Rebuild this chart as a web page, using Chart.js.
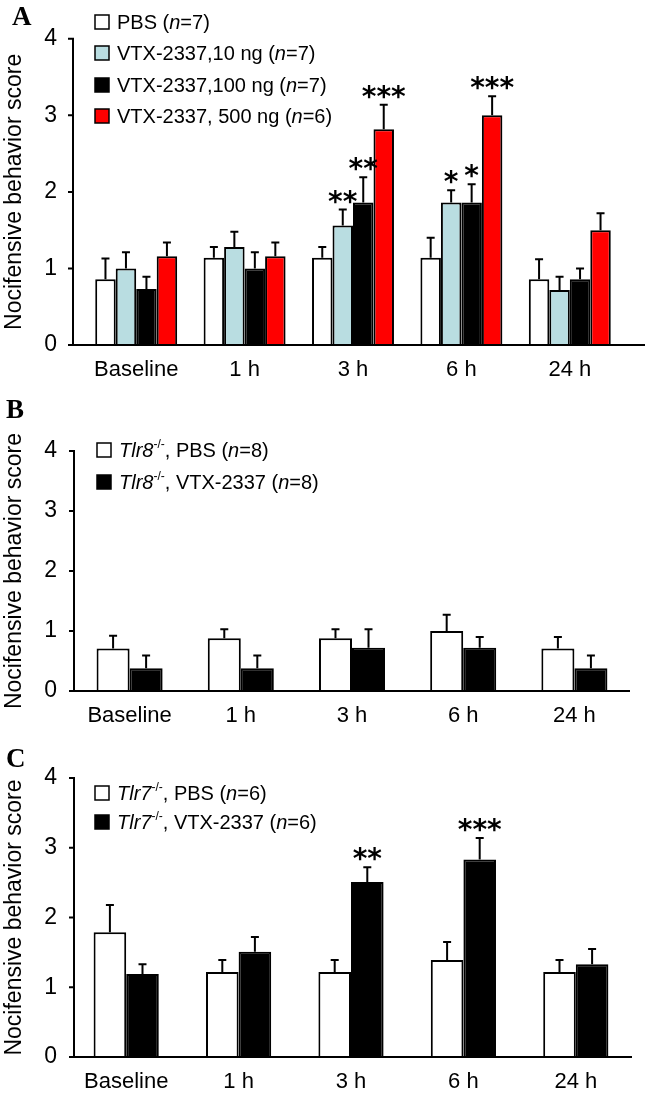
<!DOCTYPE html>
<html>
<head>
<meta charset="utf-8">
<script src="https://cdn.jsdelivr.net/npm/chart.js@4.4.1/dist/chart.umd.min.js"></script>
<style>
  html, body { margin: 0; padding: 0; background: #fff; }
  body { width: 645px; height: 1095px; position: relative; overflow: hidden; }
  canvas { position: absolute; left: 0; }
</style>
</head>
<body>
<canvas id="chartA" width="645" height="390" style="top:0px"></canvas>
<canvas id="chartB" width="645" height="340" style="top:390px"></canvas>
<canvas id="chartC" width="645" height="365" style="top:730px"></canvas>
<script>
// ---- data ----
const timepoints = ['Baseline', '1 h', '3 h', '6 h', '24 h'];
const yAxisTitle = 'Nocifensive behavior score';

// Panel A (wild type)
const pbsA       = [0.86, 1.14, 1.14, 1.14, 0.86];
const pbsAErr    = [0.27, 0.14, 0.14, 0.26, 0.26];
const vtx10A     = [1.00, 1.28, 1.56, 1.86, 0.72];
const vtx10AErr  = [0.21, 0.20, 0.21, 0.16, 0.17];
const vtx100A    = [0.73, 1.00, 1.86, 1.86, 0.86];
const vtx100AErr = [0.16, 0.21, 0.33, 0.24, 0.14];
const vtx500A    = [1.16, 1.16, 2.82, 3.00, 1.50];
const vtx500AErr = [0.18, 0.18, 0.32, 0.25, 0.22];
const sig10A     = ['', '', '**', '*', ''];
const sig100A    = ['', '', '**', '*', ''];
const sig500A    = ['', '', '***', '***', ''];

// Panel B (Tlr8-/-)
const pbsB    = [0.71, 0.88, 0.88, 1.00, 0.71];
const pbsBErr = [0.21, 0.15, 0.15, 0.27, 0.19];
const vtxB    = [0.38, 0.38, 0.72, 0.72, 0.38];
const vtxBErr = [0.21, 0.21, 0.31, 0.18, 0.21];

// Panel C (Tlr7-/-)
const pbsC    = [1.79, 1.22, 1.22, 1.39, 1.22];
const pbsCErr = [0.39, 0.17, 0.17, 0.26, 0.17];
const vtxC    = [1.19, 1.51, 2.51, 2.83, 1.33];
const vtxCErr = [0.14, 0.21, 0.21, 0.31, 0.22];
const sigC    = ['', '', '**', '***', ''];

// legend texts (segments: i = italic, sup = superscript)
const legendA = [
  [{t: 'PBS ('}, {t: 'n', i: true}, {t: '=7)'}],
  [{t: 'VTX-2337,10 ng ('}, {t: 'n', i: true}, {t: '=7)'}],
  [{t: 'VTX-2337,100 ng ('}, {t: 'n', i: true}, {t: '=7)'}],
  [{t: 'VTX-2337, 500 ng ('}, {t: 'n', i: true}, {t: '=6)'}]
];
const legendB = [
  [{t: 'Tlr8', i: true}, {t: '-/-', sup: true}, {t: ', PBS ('}, {t: 'n', i: true}, {t: '=8)'}],
  [{t: 'Tlr8', i: true}, {t: '-/-', sup: true}, {t: ', VTX-2337 ('}, {t: 'n', i: true}, {t: '=8)'}]
];
const legendC = [
  [{t: 'Tlr7', i: true}, {t: '-/-', sup: true}, {t: ', PBS ('}, {t: 'n', i: true}, {t: '=6)'}],
  [{t: 'Tlr7', i: true}, {t: '-/-', sup: true}, {t: ', VTX-2337 ('}, {t: 'n', i: true}, {t: '=6)'}]
];

const SANS = '"Liberation Sans", Arial, sans-serif';
const WHITE = '#ffffff', BLUE = '#b9dde1', BLACK = '#000000', RED = '#ff0000';

// draws axes, error bars, stars, legend and panel letter
const panelDecor = {
  id: 'panelDecor',
  afterDatasetsDraw(chart) {
    const o = chart.options.plugins.panelDecor;
    const ctx = chart.ctx;
    const ys = chart.scales.y;
    ctx.save();
    ctx.strokeStyle = '#000';
    ctx.fillStyle = '#000';
    ctx.lineWidth = 2;

    chart.data.datasets.forEach((ds, di) => {
      const meta = chart.getDatasetMeta(di);
      meta.data.forEach((bar, i) => {
        const top = ys.getPixelForValue(ds.data[i] + ds.errors[i]);
        ctx.beginPath();
        ctx.moveTo(bar.x, bar.y);
        ctx.lineTo(bar.x, top);
        ctx.moveTo(bar.x - 4, top);
        ctx.lineTo(bar.x + 4, top);
        ctx.stroke();
        const s = ds.sig ? ds.sig[i] : '';
        if (s) {
          ctx.font = 'bold 28px "DejaVu Sans"';
          ctx.textAlign = 'center';
          ctx.textBaseline = 'alphabetic';
          ctx.fillText(s, bar.x, top + 1);
        }
      });
    });

    // axes
    const y0 = ys.getPixelForValue(0);
    const y4 = ys.getPixelForValue(4);
    ctx.beginPath();
    ctx.moveTo(o.axisX, y4 - 1);
    ctx.lineTo(o.axisX, y0);
    ctx.moveTo(o.axisX - 4, y0);
    ctx.lineTo(o.xEnd, y0);
    ys.ticks.forEach(t => {
      const py = ys.getPixelForValue(t.value);
      ctx.moveTo(o.axisX - 5, py);
      ctx.lineTo(o.axisX, py);
    });
    ctx.stroke();

    // legend
    o.legend.forEach((row, ri) => {
      const cy = o.legendY[ri];
      ctx.fillStyle = chart.data.datasets[ri].backgroundColor;
      ctx.fillRect(o.legendX, cy - 7, 14, 14);
      ctx.lineWidth = 1.5;
      ctx.strokeStyle = '#000';
      ctx.strokeRect(o.legendX, cy - 7, 14, 14);
      let tx = o.legendX + 22;
      ctx.fillStyle = '#000';
      ctx.textAlign = 'left';
      ctx.textBaseline = 'alphabetic';
      row.forEach(seg => {
        const size = seg.sup ? 12 : 20;
        ctx.font = (seg.i ? 'italic ' : '') + size + 'px ' + SANS;
        ctx.fillText(seg.t, tx, cy + 7 - (seg.sup ? 9 : 0));
        tx += ctx.measureText(seg.t).width;
      });
    });

    // panel letter
    ctx.font = 'bold 27px "Liberation Serif", "Times New Roman", serif';
    ctx.textAlign = 'left';
    ctx.fillText(o.letter, o.letterX, o.letterY);
    ctx.restore();
  }
};

function makePanel(id, cfg) {
  const canvas = document.getElementById(id);
  const H = canvas.height, W = canvas.width;
  const xAxisH = 40;
  return new Chart(canvas, {
    type: 'bar',
    data: { labels: timepoints, datasets: cfg.datasets },
    options: {
      responsive: false,
      animation: false,
      layout: {
        padding: { left: 0, top: cfg.area.top, right: W - cfg.area.right, bottom: H - cfg.area.bottom - xAxisH }
      },
      datasets: {
        bar: {
          categoryPercentage: cfg.groupWidth,
          barPercentage: 1,
          borderColor: '#000',
          borderWidth: 2,
          borderSkipped: 'bottom'
        }
      },
      plugins: {
        legend: { display: false },
        tooltip: { enabled: false },
        panelDecor: cfg.decor
      },
      scales: {
        x: {
          grid: { display: false, drawTicks: false },
          border: { display: false },
          ticks: { color: '#000', font: { family: SANS, size: 22 }, padding: 12, maxRotation: 0 },
          afterFit: s => { s.height = xAxisH; }
        },
        y: {
          min: 0, max: 4,
          grid: { display: false, drawTicks: false },
          border: { display: false },
          ticks: { stepSize: 1, color: '#000', font: { family: SANS, size: 23 }, padding: cfg.area.left - 57 },
          title: { display: true, text: yAxisTitle, color: '#000', font: { family: SANS, size: 23 }, padding: { top: 1, bottom: 0 } },
          afterFit: s => { s.width = cfg.area.left; }
        }
      }
    },
    plugins: [panelDecor]
  });
}

function bars(label, data, errors, color, sig) {
  return { label, data, errors, sig, backgroundColor: color };
}

makePanel('chartA', {
  area: { left: 82, right: 624, top: 31, bottom: 345 },
  groupWidth: 0.756,
  datasets: [
    bars('PBS', pbsA, pbsAErr, WHITE),
    bars('VTX-2337, 10 ng', vtx10A, vtx10AErr, BLUE, sig10A),
    bars('VTX-2337, 100 ng', vtx100A, vtx100AErr, BLACK, sig100A),
    bars('VTX-2337, 500 ng', vtx500A, vtx500AErr, RED, sig500A)
  ],
  decor: { axisX: 73, xEnd: 645, legend: legendA, legendX: 95, legendY: [22, 53, 85, 116], letter: 'A', letterX: 12, letterY: 25 }
});

makePanel('chartB', {
  area: { left: 74, right: 630, top: 61, bottom: 301 },
  groupWidth: 0.594,
  datasets: [
    bars('Tlr8-/-, PBS', pbsB, pbsBErr, WHITE),
    bars('Tlr8-/-, VTX-2337', vtxB, vtxBErr, BLACK)
  ],
  decor: { axisX: 74, xEnd: 630, legend: legendB, legendX: 97, legendY: [60, 92], letter: 'B', letterX: 6, letterY: 28 }
});

makePanel('chartC', {
  area: { left: 70, right: 632, top: 48, bottom: 327 },
  groupWidth: 0.58,
  datasets: [
    bars('Tlr7-/-, PBS', pbsC, pbsCErr, WHITE),
    bars('Tlr7-/-, VTX-2337', vtxC, vtxCErr, BLACK, sigC)
  ],
  decor: { axisX: 74, xEnd: 632, legend: legendC, legendX: 95, legendY: [63, 92], letter: 'C', letterX: 6, letterY: 37 }
});
</script>
</body>
</html>
